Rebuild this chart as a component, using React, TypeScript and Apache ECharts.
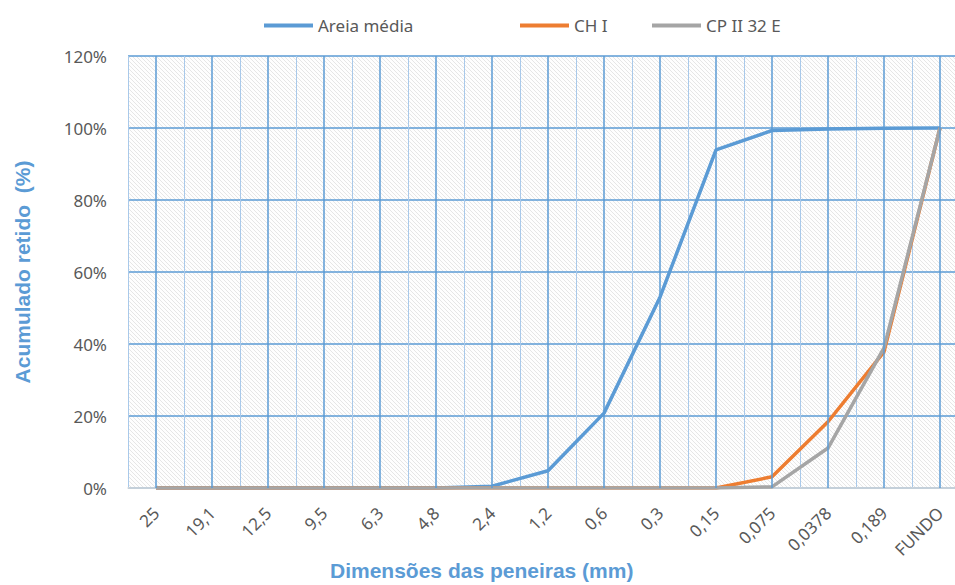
import React, { useEffect, useRef } from "react";
import * as echarts from "echarts";

const categories = ["25", "19,1", "12,5", "9,5", "6,3", "4,8", "2,4", "1,2", "0,6", "0,3", "0,15", "0,075", "0,0378", "0,189", "FUNDO"];
const areiaMedia = [0, 0, 0, 0, 0, 0, 0.5, 4.8, 20.8, 53, 93.9, 99.3, 99.7, 99.9, 100];
const chI = [0, 0, 0, 0, 0, 0, 0, 0, 0, 0, 0, 3.1, 18.4, 37.8, 100];
const cpII32E = [0, 0, 0, 0, 0, 0, 0, 0, 0, 0, 0, 0.3, 11.1, 38.9, 100];
const yTicks = { min: 0, max: 120, interval: 20 };

function makeHatch(): HTMLCanvasElement {
  const c = document.createElement("canvas");
  c.width = 4;
  c.height = 4;
  const ctx = c.getContext("2d")!;
  ctx.fillStyle = "#fefefe";
  ctx.fillRect(0, 0, 4, 4);
  ctx.strokeStyle = "#e6e6e6";
  ctx.lineWidth = 1;
  ctx.beginPath();
  ctx.moveTo(-1, -1);
  ctx.lineTo(5, 5);
  ctx.moveTo(-1, 3);
  ctx.lineTo(1, 5);
  ctx.moveTo(3, -1);
  ctx.lineTo(5, 1);
  ctx.stroke();
  return c;
}

export default function App() {
  const ref = useRef<HTMLDivElement>(null);
  useEffect(() => {
    if (!ref.current) return;
    const chart = echarts.init(ref.current, null, { renderer: "svg" });
    const hatch = makeHatch();
    const labelColor = "#595959";
    const font = "'Noto Sans', sans-serif";
    const legendCommon = {
      top: 12,
      icon: "rect",
      itemWidth: 49,
      itemHeight: 4,
      textStyle: { color: labelColor, fontSize: 17, fontFamily: font },
    };
    chart.setOption({
      animation: false,
      backgroundColor: "#ffffff",
      legend: [
        { ...legendCommon, left: 259, data: ["Areia média"] },
        { ...legendCommon, left: 515, data: ["CH I"] },
        { ...legendCommon, left: 647, data: ["CP II 32 E"] },
      ],
      grid: {
        left: 128,
        top: 56,
        right: 12,
        bottom: 97,
        show: true,
        borderWidth: 0,
        backgroundColor: { image: hatch, repeat: "repeat", imageWidth: 4, imageHeight: 4 } as any,
      },
      xAxis: {
        type: "category",
        data: categories,
        boundaryGap: true,
        axisLine: { show: true, lineStyle: { color: "#d9d9d9", width: 1.5 } },
        axisTick: { show: false },
        axisLabel: {
          interval: 0,
          rotate: 45,
          margin: 22,
          color: labelColor,
          fontSize: 17,
          fontFamily: font,
        },
        splitLine: { show: true, lineStyle: { color: "#a9c9ea", width: 1 } },
      },
      yAxis: {
        type: "value",
        min: yTicks.min,
        max: yTicks.max,
        interval: yTicks.interval,
        axisLine: { show: false },
        axisTick: { show: false },
        axisLabel: {
          formatter: "{value}%",
          margin: 21,
          color: labelColor,
          fontSize: 17,
          fontFamily: font,
        },
        splitLine: { show: true, lineStyle: { color: "#5b9bd5", width: 1.5 } },
        name: "Acumulado retido  (%)",
        nameLocation: "middle",
        nameGap: 95,
        nameTextStyle: {
          color: "#5b9bd5",
          fontSize: 21,
          fontWeight: "bold",
          fontFamily: "'Liberation Sans', Arial, sans-serif",
        },
      },
      graphic: [
        {
          type: "text",
          left: 330,
          top: 560,
          style: {
            text: "Dimensões das peneiras (mm)",
            fill: "#5b9bd5",
            fontSize: 21,
            fontWeight: "bold",
            fontFamily: "'Liberation Sans', Arial, sans-serif",
          },
        },
      ],
      series: [
        {
          name: "grid-major",
          type: "line",
          data: categories.map(() => null),
          silent: true,
          z: 1,
          markLine: {
            silent: true,
            symbol: ["none", "none"],
            label: { show: false },
            lineStyle: { color: "#5b9bd5", width: 1.5, type: "solid" },
            emphasis: { disabled: true },
            data: categories.map((c) => ({ xAxis: c })),
          },
        },
        {
          name: "Areia média",
          type: "line",
          data: areiaMedia,
          symbol: "none",
          z: 3,
          lineStyle: { color: "#5b9bd5", width: 3.5 },
          itemStyle: { color: "#5b9bd5" },
        },
        {
          name: "CH I",
          type: "line",
          data: chI,
          symbol: "none",
          z: 3,
          lineStyle: { color: "#ed7d31", width: 3.5 },
          itemStyle: { color: "#ed7d31" },
        },
        {
          name: "CP II 32 E",
          type: "line",
          data: cpII32E,
          symbol: "none",
          z: 3,
          lineStyle: { color: "#a5a5a5", width: 3.5 },
          itemStyle: { color: "#a5a5a5" },
        },
      ],
    });
    return () => chart.dispose();
  }, []);
  return (
    <div
      ref={ref}
      style={{ position: "fixed", left: 0, top: 0, width: 980, height: 585 }}
    />
  );
}
